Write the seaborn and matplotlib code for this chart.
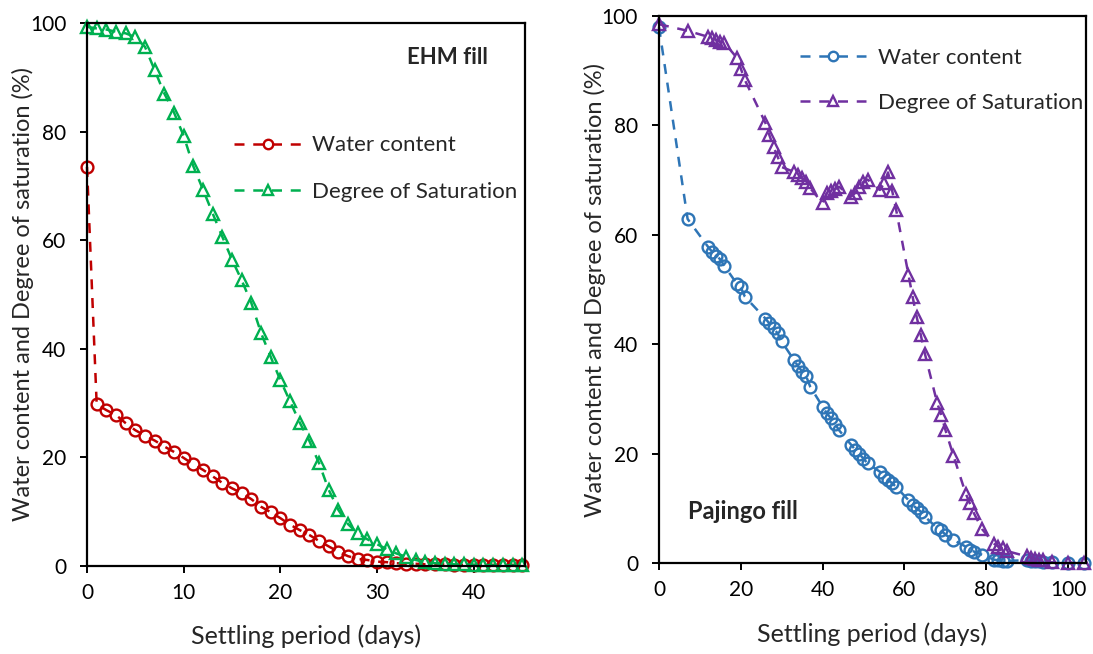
import matplotlib
matplotlib.use("Agg")
import matplotlib.pyplot as plt
import seaborn as sns
import pandas as pd

# ---------------- data ----------------
ehm_days = list(range(0, 46))
ehm_water = [73.5, 29.8, 28.7, 27.8, 26.3, 25.0, 24.0, 23.1, 22.0, 21.0,
             19.9, 18.7, 17.7, 16.5, 15.3, 14.3, 13.4, 12.3, 10.9, 9.9,
             8.8, 7.6, 6.6, 5.7, 4.6, 3.6, 2.6, 1.8, 1.3, 1.1,
             0.8, 0.7, 0.5, 0.4, 0.4, 0.3, 0.3, 0.3, 0.2, 0.2,
             0.2, 0.2, 0.2, 0.2, 0.2, 0.2]
ehm_sat = [99.3, 99.0, 98.8, 98.4, 98.1, 97.4, 95.6, 91.3, 87.0, 83.5,
           79.2, 73.6, 69.3, 64.9, 60.6, 56.4, 52.6, 48.4, 42.9, 38.5,
           34.2, 30.3, 26.4, 23.0, 18.9, 14.0, 10.3, 7.7, 6.0, 4.9,
           4.0, 3.1, 2.3, 1.7, 1.1, 0.7, 0.5, 0.4, 0.3, 0.3,
           0.2, 0.2, 0.1, 0.1, 0.1, 0.1]

paj_days = [0, 7, 12, 13, 14, 15, 16, 19, 20, 21, 26, 27, 28, 29, 30,
            33, 34, 35, 36, 37, 40, 41, 42, 43, 44, 47, 48, 49, 50, 51,
            54, 55, 56, 57, 58, 61, 62, 63, 64, 65, 68, 69, 70, 72, 75,
            76, 77, 79, 82, 83, 84, 85, 90, 91, 92, 93, 94, 96, 100, 104]
paj_water = [98.0, 62.9, 57.8, 56.9, 56.2, 55.5, 54.3, 51.1, 50.4, 48.7,
             44.7, 43.8, 42.9, 42.0, 40.5, 37.1, 36.0, 35.0, 34.1, 32.2,
             28.6, 27.4, 26.5, 25.5, 24.3, 21.6, 20.7, 19.9, 19.1, 18.2,
             16.7, 15.8, 15.2, 14.6, 13.9, 11.5, 10.6, 10.0, 9.4, 8.5,
             6.4, 6.0, 5.2, 4.2, 3.0, 2.4, 2.1, 1.5, 0.6, 0.5,
             0.4, 0.4, 0.5, 0.4, 0.3, 0.3, 0.2, 0.1, 0.0, 0.0]
paj_sat = [98.5, 97.3, 96.2, 95.9, 95.6, 95.3, 95.1, 92.4, 90.4, 88.3,
           80.5, 78.2, 76.1, 74.3, 72.4, 71.5, 70.9, 70.3, 69.7, 68.5,
           65.8, 67.6, 68.1, 68.3, 68.8, 67.0, 67.7, 68.8, 69.7, 70.1,
           68.2, 69.4, 71.4, 68.1, 64.5, 52.7, 48.7, 45.0, 41.7, 38.3,
           29.3, 27.1, 24.4, 19.6, 12.7, 10.9, 9.1, 6.2, 3.5, 3.0,
           2.7, 2.2, 1.2, 1.0, 0.8, 0.6, 0.5, 0.1, 0.0, 0.0]

series_names = ["Water content", "Degree of Saturation"]
y_label = "Water content and Degree of saturation (%)"
x_label = "Settling period (days)"

# ---------------- style ----------------
sns.set_style("white")
plt.rcParams["font.family"] = ["Lato", "DejaVu Sans"]
plt.rcParams["axes.linewidth"] = 1.6

fig = plt.figure(figsize=(10.93, 6.54), dpi=100)
ax1 = fig.add_axes([0.0796, 0.1346, 0.4008, 0.8302])
ax2 = fig.add_axes([0.6029, 0.1391, 0.3907, 0.8364])

def draw(ax, days, w, s, cw, cs):
    dfw = pd.DataFrame({"day": days, "val": w})
    dfs = pd.DataFrame({"day": days, "val": s})
    sns.lineplot(data=dfw, x="day", y="val", ax=ax, color=cw, estimator=None,
                 sort=False, marker="o", markersize=8.5, markerfacecolor="none",
                 markeredgecolor=cw, markeredgewidth=1.7, linewidth=1.8,
                 dashes=False, linestyle=(0, (4, 3.5)), label=series_names[0])
    sns.lineplot(data=dfs, x="day", y="val", ax=ax, color=cs, estimator=None,
                 sort=False, marker="^", markersize=8.5, markerfacecolor="none",
                 markeredgecolor=cs, markeredgewidth=1.7, linewidth=1.8,
                 dashes=False, linestyle=(0, (4, 3.5)), label=series_names[1])
    for sp in ax.spines.values():
        sp.set_color("black")
        sp.set_visible(True)
    ax.tick_params(axis="both", direction="out", length=5, width=1.4,
                   labelsize=15, colors="black", left=True, bottom=True)
    ax.tick_params(axis="y", pad=10)
    ax.tick_params(axis="x", pad=7)
    ax.set_ylim(0, 100)
    ax.set_yticks([0, 20, 40, 60, 80, 100])
    ax.set_xlabel(x_label, fontsize=18, labelpad=16)
    ax.set_ylabel(y_label, fontsize=17, labelpad=-3)
    for l in ax.get_lines():
        l.set_clip_on(False)

draw(ax1, ehm_days, ehm_water, ehm_sat, "#C00000", "#00B050")
ax1.set_xlim(0, 45.3)
ax1.set_xticks([0, 10, 20, 30, 40])
ax1.legend(loc="upper left", bbox_to_anchor=(0.291, 0.83), frameon=False,
           fontsize=16, handlelength=3.0, numpoints=1, labelspacing=1.2,
           handletextpad=0.5, markerscale=0.8)
ax1.text(0.915, 0.937, "EHM fill", transform=ax1.transAxes, ha="right",
         va="center", fontsize=16, fontweight="bold")

draw(ax2, paj_days, paj_water, paj_sat, "#2E75B6", "#7030A0")
ax2.set_xlim(0, 104.4)
ax2.set_xticks([0, 20, 40, 60, 80, 100])
ax2.legend(loc="upper left", bbox_to_anchor=(0.283, 0.978), frameon=False,
           fontsize=16, handlelength=3.0, numpoints=1, labelspacing=1.1,
           handletextpad=0.5, markerscale=0.8)
ax2.text(0.068, 0.095, "Pajingo fill", transform=ax2.transAxes, ha="left",
         va="center", fontsize=17, fontweight="bold")

fig.savefig("out.png", dpi=100)
